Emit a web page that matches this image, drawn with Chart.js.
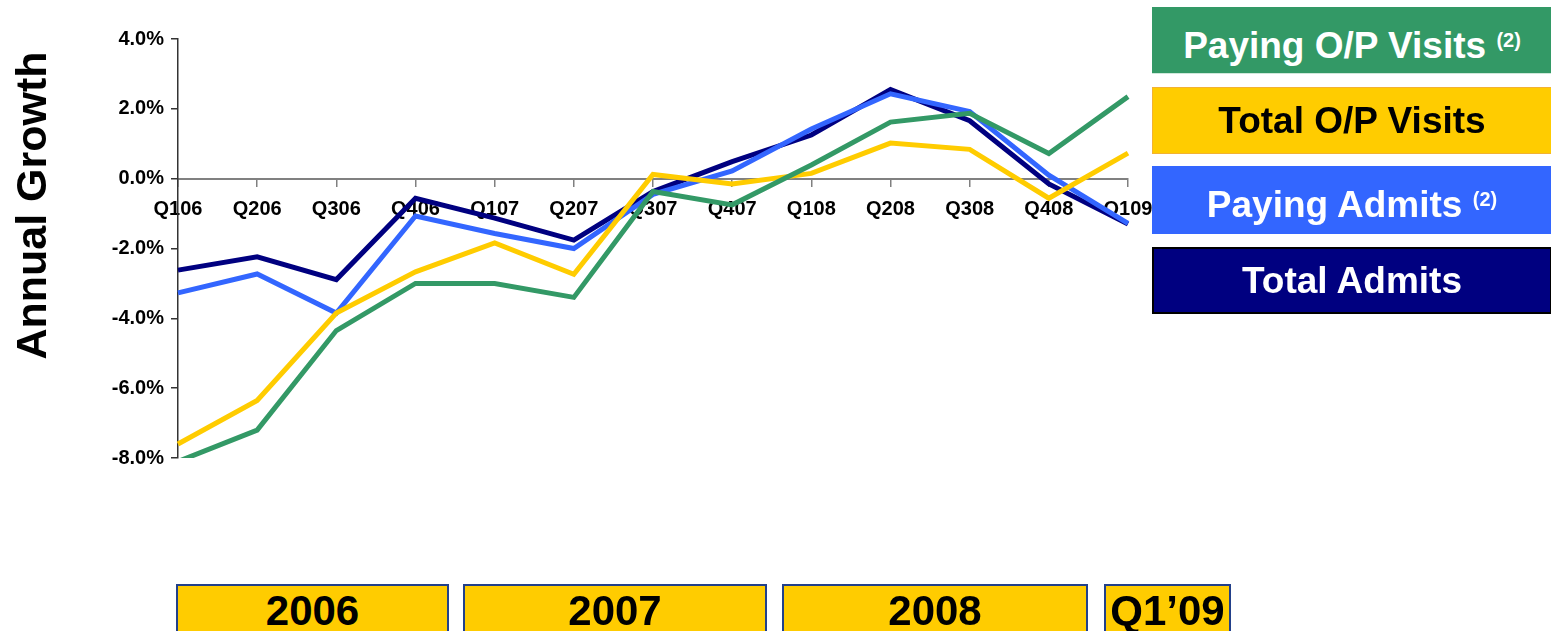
<!DOCTYPE html>
<html>
<head>
<meta charset="utf-8">
<title>Annual Growth</title>
<script src="https://cdn.jsdelivr.net/npm/chart.js@4.4.0/dist/chart.umd.min.js"></script>
<style>
  body { margin: 0; background: #fff; width: 1551px; height: 631px; overflow: hidden; position: relative; font-family: "Liberation Sans", Arial, sans-serif; }
  #myChart { position: absolute; left: 0; top: 0; }
  .key { position: absolute; left: 1152px; width: 400px; box-sizing: border-box; text-align: center; font-weight: bold; font-size: 37px; }
  .key .sup { font-size: 20px; vertical-align: 11px; }
  .year { position: absolute; top: 584px; height: 50px; box-sizing: border-box; border: 2px solid #22408a; background: #ffcc00; text-align: center; font-weight: bold; font-size: 42px; line-height: 50px; color: #000; }
</style>
</head>
<body>
<canvas id="myChart" width="1551" height="631"></canvas>

<div class="key" style="top:7px;height:67px;line-height:66px;background:#339966;color:#fff;border-bottom:1px solid #cfe8da">Paying O/P Visits <span class="sup">(2)</span></div>
<div class="key" style="top:87px;height:67px;line-height:65px;background:#ffcc00;color:#000;border:1px solid #f2b233">Total O/P Visits</div>
<div class="key" style="top:166px;height:68px;line-height:67px;background:#3366ff;color:#fff">Paying Admits <span class="sup">(2)</span></div>
<div class="key" style="top:247px;height:67px;line-height:63px;background:#000080;color:#fff;border:2px solid #000">Total Admits</div>

<div class="year" style="left:176px;width:273px">2006</div>
<div class="year" style="left:463px;width:304px">2007</div>
<div class="year" style="left:782px;width:306px">2008</div>
<div class="year" style="left:1104px;width:127px">Q1’09</div>

<script>
// quarters on the x axis
const quarters = ["Q106", "Q206", "Q306", "Q406", "Q107", "Q207", "Q307", "Q407", "Q108", "Q208", "Q308", "Q408", "Q109"]

// annual growth, in %
const payingOPVisits = [-8.1, -7.2, -4.35, -3.0, -3.0, -3.4, -0.37, -0.75, 0.39, 1.62, 1.87, 0.72, 2.35]
const totalOPVisits = [-7.6, -6.35, -3.85, -2.67, -1.84, -2.74, 0.12, -0.15, 0.15, 1.02, 0.84, -0.56, 0.73]
const payingAdmits = [-3.27, -2.73, -3.85, -1.07, -1.57, -2.0, -0.45, 0.22, 1.42, 2.43, 1.92, 0.1, -1.28]
const totalAdmits = [-2.62, -2.24, -2.89, -0.56, -1.13, -1.76, -0.37, 0.49, 1.25, 2.55, 1.66, -0.15, -1.3]

const yMin = -8
const yMax = 4
const yStep = 2

const font = "'Liberation Sans', Arial, sans-serif"

// rotated y axis title
const axisTitle = {
  id: "axisTitle",
  afterDraw(chart) {
    const ctx = chart.ctx
    ctx.save()
    ctx.translate(46, 205.5)
    ctx.rotate(-Math.PI / 2)
    ctx.font = "bold 43px " + font
    ctx.fillStyle = "#000"
    ctx.textAlign = "center"
    ctx.textBaseline = "alphabetic"
    ctx.fillText("Annual Growth", 0, 0)
    ctx.restore()
  }
}

const ctx = document.getElementById("myChart").getContext("2d")
const myChart = new Chart(ctx, {
  type: "line",
  data: {
    labels: quarters,
    datasets: [
      { label: "Paying O/P Visits", data: payingOPVisits, borderColor: "#339966" },
      { label: "Total O/P Visits", data: totalOPVisits, borderColor: "#ffcc00" },
      { label: "Paying Admits", data: payingAdmits, borderColor: "#3366ff" },
      { label: "Total Admits", data: totalAdmits, borderColor: "#000080" }
    ]
  },
  options: {
    responsive: false,
    animation: false,
    layout: { padding: { left: 0, top: 39, right: 423, bottom: 173 } },
    elements: {
      line: { borderWidth: 5, tension: 0, borderCapStyle: "butt", borderJoinStyle: "miter" },
      point: { radius: 0, hoverRadius: 0 }
    },
    plugins: {
      legend: { display: false },
      tooltip: { enabled: false }
    },
    scales: {
      x: {
        position: { y: 0 },
        offset: false,
        grid: { drawOnChartArea: false, drawTicks: true, tickLength: 7, color: "#808080", lineWidth: 1.5 },
        border: { display: true, color: "#808080", width: 2 },
        ticks: { autoSkip: false, maxRotation: 0, padding: 12, color: "#000", font: { family: font, size: 20, weight: "bold" } },
        afterFit(scale) {
          scale.paddingLeft = 0
          scale.paddingRight = 0
        }
      },
      y: {
        min: yMin,
        max: yMax,
        grid: { drawOnChartArea: false, drawTicks: true, tickLength: 7, color: "#333", lineWidth: 1.5 },
        border: { display: true, color: "#333", width: 1.5 },
        ticks: {
          stepSize: yStep,
          padding: 7,
          color: "#000",
          font: { family: font, size: 20, weight: "bold" },
          callback: v => v.toFixed(1) + "%"
        },
        afterFit(scale) {
          scale.width = 178
          scale.paddingTop = 0
          scale.paddingBottom = 0
        }
      }
    }
  },
  plugins: [axisTitle]
});
</script>
</body>
</html>
